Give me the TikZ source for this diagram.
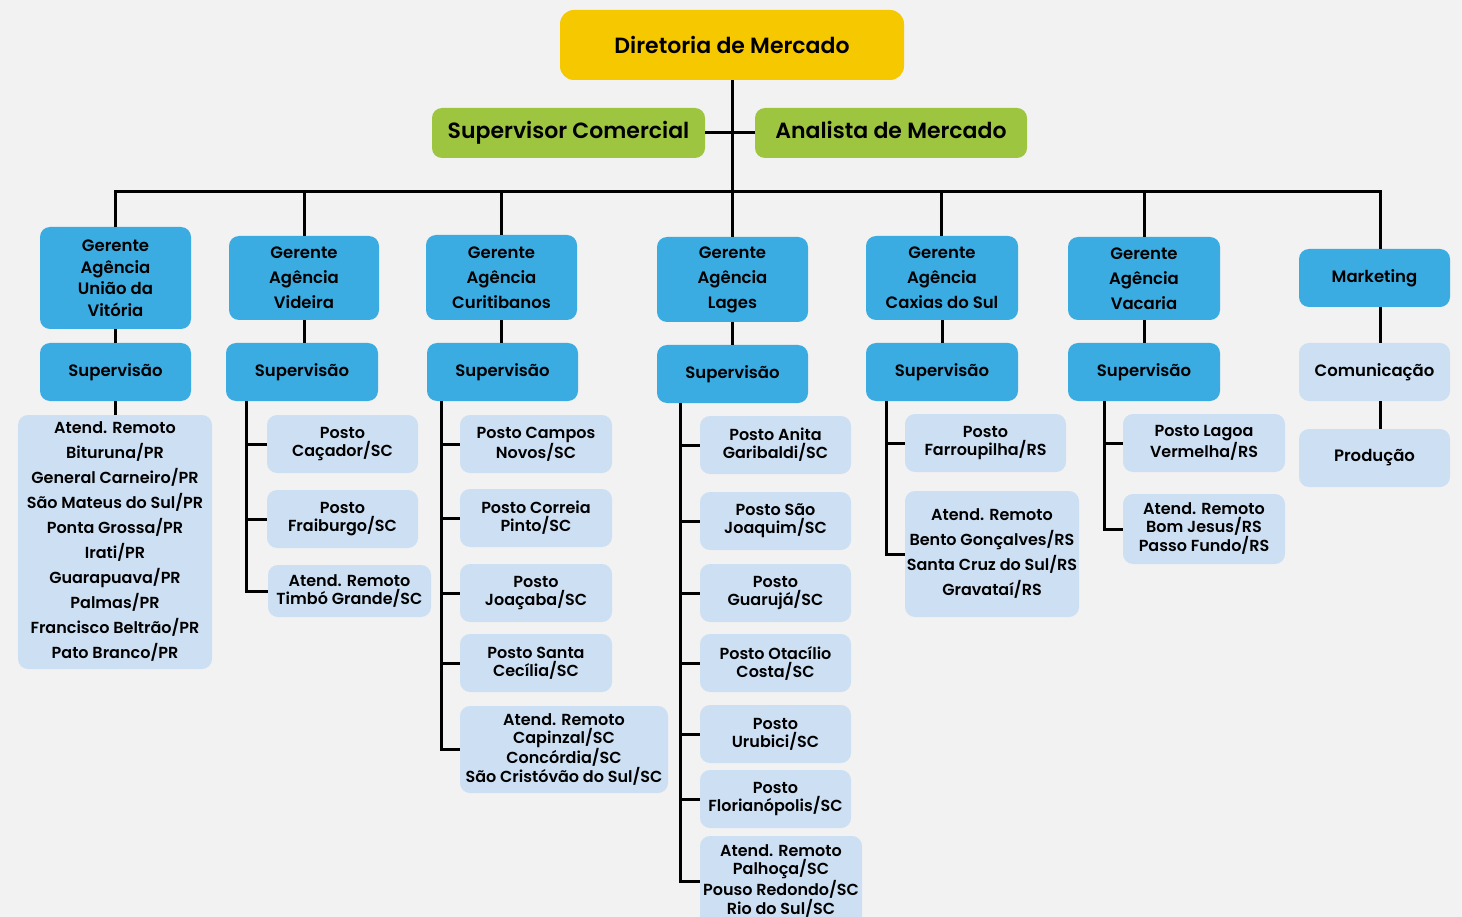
\documentclass[tikz,border=0pt]{standalone}
\usepackage{fontspec}
\newfontfamily\pop{Poppins SemiBold}
\definecolor{bgc}{HTML}{F2F2F2}
\definecolor{yelc}{HTML}{F5C800}
\definecolor{grnc}{HTML}{9DC540}
\definecolor{bluc}{HTML}{3AACE2}
\definecolor{litc}{HTML}{CCDFF3}
\tikzset{
  base/.style={rounded corners=10pt, inner sep=0pt, align=center, text=black},
  topbox/.style={base, fill=yelc, rounded corners=14pt, font=\pop\fontsize{22}{26}\selectfont},
  grnbox/.style={base, fill=grnc, font=\pop\fontsize{22}{26}\selectfont},
  bluebox/.style={base, fill=bluc, font=\pop\fontsize{16.5}{25}\selectfont},
  litbox/.style={base, fill=litc, font=\pop\fontsize{16}{18}\selectfont},
  wide/.style={font=\pop\fontsize{16}{25}\selectfont},
  conn/.style={draw=black, line width=3pt},
  sz/.style 2 args={minimum width=#1pt, minimum height=#2pt}
}
\begin{document}
\begin{tikzpicture}[x=1pt,y=-1pt]
\fill[bgc] (0,0) rectangle (1462,917);
\useasboundingbox (0,0) rectangle (1462,917);

% top
\node[topbox, sz={344}{70}] (top) at (732,45) {Diretoria de Mercado};
\node[grnbox, sz={273}{50}] (sc) at (568.5,133) {Supervisor Comercial};
\node[grnbox, sz={272}{50}] (am) at (891,133) {Analista de Mercado\vphantom{p}};

% gerentes
\node[bluebox, sz={151}{102}, font=\pop\fontsize{16.5}{21.5}\selectfont] (g1) at (115.5,278) {Gerente\\Agência\\União da\\Vitória};
\node[bluebox, sz={150}{84}] (g2) at (304,278) {Gerente\\Agência\\Videira};
\node[bluebox, sz={151}{85}] (g3) at (501.5,277.5) {Gerente\\Agência\\Curitibanos};
\node[bluebox, sz={151}{85}] (g4) at (732.5,279.5) {Gerente\\Agência\\Lages};
\node[bluebox, sz={152}{84}] (g5) at (942,278) {Gerente\\Agência\\Caxias do Sul};
\node[bluebox, sz={152}{83}] (g6) at (1144,278.5) {Gerente\\Agência\\Vacaria};
\node[bluebox, sz={151}{58}] (mk) at (1374.5,278) {Marketing};

% supervisao
\node[bluebox, sz={151}{58}] (s1) at (115.5,372) {Supervisão};
\node[bluebox, sz={152}{58}] (s2) at (302,372) {Supervisão};
\node[bluebox, sz={151}{58}] (s3) at (502.5,372) {Supervisão};
\node[bluebox, sz={151}{58}] (s4) at (732.5,374) {Supervisão};
\node[bluebox, sz={152}{58}] (s5) at (942,372) {Supervisão};
\node[bluebox, sz={152}{58}] (s6) at (1144,372) {Supervisão};
\node[litbox, sz={151}{58}, font=\pop\fontsize{16.5}{20}\selectfont] (cm) at (1374.5,372) {Comunicação};
\node[litbox, sz={151}{58}, font=\pop\fontsize{16.5}{20}\selectfont] (pr) at (1374.5,458) {Produção};

% column 1
\node[litbox, wide, sz={194}{254}] (a1) at (115,542) {Atend. Remoto\\Bituruna/PR\\General Carneiro/PR\\São Mateus do Sul/PR\\Ponta Grossa/PR\\Irati/PR\\Guarapuava/PR\\Palmas/PR\\Francisco Beltrão/PR\\Pato Branco/PR};

% column 2
\node[litbox, sz={151}{58}] (p2a) at (342.5,444) {Posto\\Caçador/SC};
\node[litbox, sz={151}{58}] (p2b) at (342.5,519) {Posto\\Fraiburgo/SC};
\node[litbox, sz={163}{52}] (p2c) at (349.5,591) {Atend. Remoto\\Timbó Grande/SC};

% column 3
\node[litbox, sz={152}{58}] (p3a) at (536,444) {Posto Campos\\Novos/SC};
\node[litbox, sz={152}{58}] (p3b) at (536,518) {Posto Correia\\Pinto/SC};
\node[litbox, sz={152}{58}] (p3c) at (536,593) {Posto\\Joaçaba/SC};
\node[litbox, sz={152}{58}] (p3d) at (536,663) {Posto Santa\\Cecília/SC};
\node[litbox, sz={208}{87}] (p3e) at (564,749.5) {Atend. Remoto\\Capinzal/SC\\Concórdia/SC\\São Cristóvão do Sul/SC};

% column 4
\node[litbox, sz={151}{58}] (p4a) at (775.5,445) {Posto Anita\\Garibaldi/SC};
\node[litbox, sz={151}{58}] (p4b) at (775.5,521) {Posto São\\Joaquim/SC};
\node[litbox, sz={151}{58}] (p4c) at (775.5,593) {Posto\\Guarujá/SC};
\node[litbox, sz={151}{58}] (p4d) at (775.5,663) {Posto Otacílio\\Costa/SC};
\node[litbox, sz={151}{58}] (p4e) at (775.5,734) {Posto\\Urubici/SC};
\node[litbox, sz={151}{58}] (p4f) at (775.5,799) {Posto\\Florianópolis/SC};
\node[litbox, sz={162}{90}] (p4g) at (781,881) {Atend. Remoto\\Palhoça/SC\\Pouso Redondo/SC\\Rio do Sul/SC};

% column 5
\node[litbox, sz={161}{58}] (p5a) at (985.5,443) {Posto\\Farroupilha/RS};
\node[litbox, wide, sz={174}{126}] (p5b) at (992,554) {Atend. Remoto\\Bento Gonçalves/RS\\Santa Cruz do Sul/RS\\Gravataí/RS};

% column 6
\node[litbox, sz={162}{58}] (p6a) at (1204,443) {Posto Lagoa\\Vermelha/RS};
\node[litbox, sz={162}{70}] (p6b) at (1204,529) {Atend. Remoto\\Bom Jesus/RS\\Passo Fundo/RS};

% bus coordinates
\coordinate (b1) at (115,192);
\coordinate (b2) at (304,192);
\coordinate (b3) at (501,192);
\coordinate (b4) at (732,192);
\coordinate (b5) at (941,192);
\coordinate (b6) at (1144,192);
\coordinate (b7) at (1380,192);
\coordinate (v2) at (246,401);
\coordinate (v3) at (441,401);
\coordinate (v4) at (680,403);
\coordinate (v5) at (886,401);
\coordinate (v6) at (1104,401);

% connectors
\draw[conn] (top.south) -- (b4);
\draw[conn] (sc.east) -- (am.west);
\draw[conn] (g1.north -| b1) |- (b7) -- (b7 |- mk.north);
\foreach \i in {2,...,6} { \draw[conn] (b\i) -- (b\i |- g\i.north); }
\foreach \i in {1,...,6} { \draw[conn] (g\i.south) -- (g\i.south |- s\i.north); }
\draw[conn] (b7 |- mk.south) -- (b7 |- cm.north);
\draw[conn] (b7 |- cm.south) -- (b7 |- pr.north);
\draw[conn] (s1.south) -- (s1.south |- a1.north);
\foreach \n in {p2a,p2b,p2c} { \draw[conn] (v2) |- (\n.west); }
\foreach \n in {p3a,p3b,p3c,p3d,p3e} { \draw[conn] (v3) |- (\n.west); }
\foreach \n in {p4a,p4b,p4c,p4d,p4e,p4f,p4g} { \draw[conn] (v4) |- (\n.west); }
\foreach \n in {p5a,p5b} { \draw[conn] (v5) |- (\n.west); }
\foreach \n in {p6a,p6b} { \draw[conn] (v6) |- (\n.west); }
\end{tikzpicture}
\end{document}
